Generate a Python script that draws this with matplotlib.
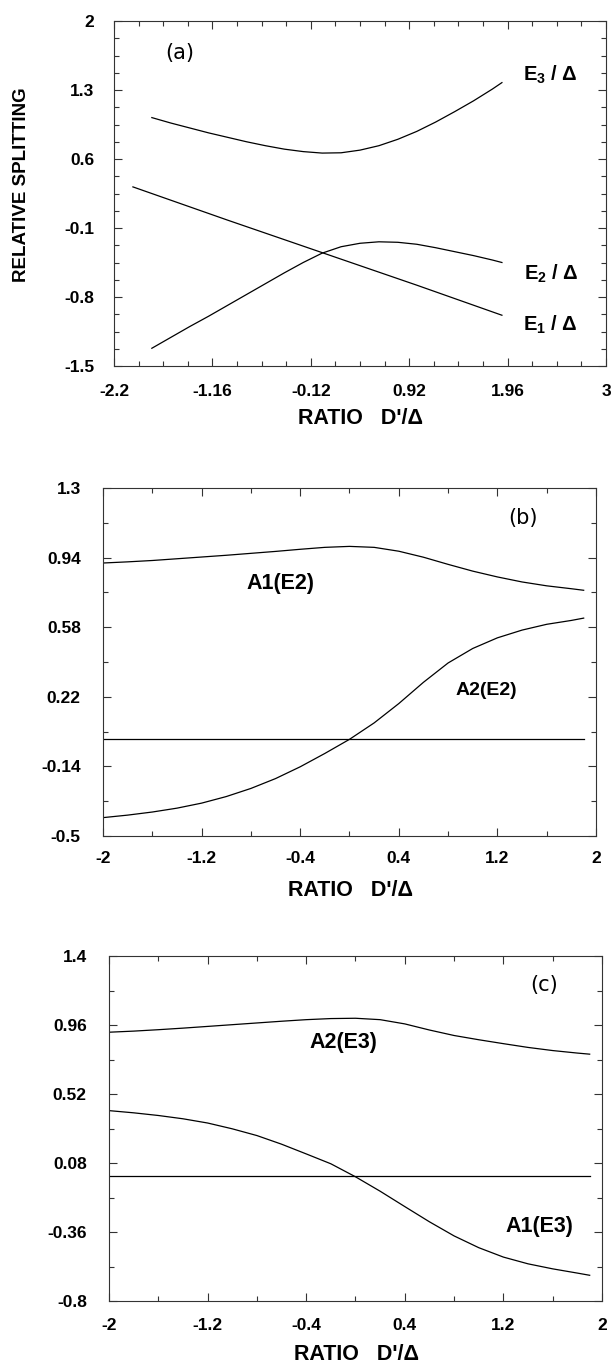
import numpy as np
import matplotlib
matplotlib.use('Agg')
import matplotlib.pyplot as plt
from matplotlib.ticker import FixedLocator, FixedFormatter

plt.rcParams['font.family'] = ['Liberation Sans', 'DejaVu Sans']
plt.rcParams['mathtext.fontset'] = 'custom'
plt.rcParams['mathtext.rm'] = 'Liberation Sans:bold'
plt.rcParams['mathtext.default'] = 'rm'

# ---- panel (a): relative splitting vs D'/Delta ----
xE1 = [-2.0, -1.0, 0.0, 1.0, 1.9]
yE1 = [0.317, -0.02, -0.35, -0.68, -0.985]

xE23 = [-1.8, -1.6, -1.4, -1.2, -1.0, -0.8, -0.6, -0.4, -0.2, 0.0,
        0.2, 0.4, 0.6, 0.8, 1.0, 1.2, 1.4, 1.6, 1.8, 1.9]
yE3 = [1.02, 0.965, 0.915, 0.865, 0.82, 0.775, 0.735, 0.70, 0.675, 0.66,
       0.663, 0.69, 0.735, 0.80, 0.88, 0.975, 1.08, 1.19, 1.31, 1.375]
yE2 = [-1.32, -1.21, -1.10, -0.995, -0.885, -0.775, -0.665, -0.555, -0.45, -0.355,
       -0.29, -0.255, -0.24, -0.245, -0.265, -0.30, -0.34, -0.38, -0.425, -0.45]

# ---- panels (b) and (c) share the same x grid ----
xBC = [-2.0, -1.8, -1.6, -1.4, -1.2, -1.0, -0.8, -0.6, -0.4, -0.2, 0.0,
       0.2, 0.4, 0.6, 0.8, 1.0, 1.2, 1.4, 1.6, 1.8, 1.9]
yA1E2 = [0.912, 0.918, 0.925, 0.934, 0.943, 0.952, 0.962, 0.972, 0.983, 0.993, 0.998,
         0.993, 0.973, 0.942, 0.905, 0.87, 0.84, 0.814, 0.794, 0.779, 0.771]
yA2E2 = [-0.405, -0.392, -0.376, -0.356, -0.33, -0.296, -0.254, -0.203, -0.142, -0.073, 0.0,
         0.085, 0.185, 0.295, 0.395, 0.47, 0.525, 0.565, 0.595, 0.615, 0.627]
yA2E3 = [0.914, 0.921, 0.93, 0.94, 0.951, 0.962, 0.973, 0.984, 0.994, 1.001, 1.003,
         0.994, 0.967, 0.928, 0.893, 0.866, 0.841, 0.817, 0.797, 0.781, 0.774]
yA1E3 = [0.414, 0.40, 0.383, 0.362, 0.335, 0.298, 0.255, 0.20, 0.138, 0.075, -0.008,
         -0.10, -0.198, -0.295, -0.385, -0.46, -0.52, -0.563, -0.595, -0.622, -0.636]
xZero = [-2.0, 1.9]
yZero = [0.0, 0.0]

# tick values / labels
xTicksA = [-2.2, -1.16, -0.12, 0.92, 1.96, 3.0]
xLabelsA = ['-2.2', '-1.16', '-0.12', '0.92', '1.96', '3']
yTicksA = [-1.5, -0.8, -0.1, 0.6, 1.3, 2.0]
yLabelsA = ['-1.5', '-0.8', '-0.1', '0.6', '1.3', '2']
xTicksBC = [-2.0, -1.2, -0.4, 0.4, 1.2, 2.0]
xLabelsBC = ['-2', '-1.2', '-0.4', '0.4', '1.2', '2']
yTicksB = [-0.5, -0.14, 0.22, 0.58, 0.94, 1.3]
yLabelsB = ['-0.5', '-0.14', '0.22', '0.58', '0.94', '1.3']
yTicksC = [-0.8, -0.36, 0.08, 0.52, 0.96, 1.4]
yLabelsC = ['-0.8', '-0.36', '0.08', '0.52', '0.96', '1.4']


def styleAxis(ax, xt, xl, xminor, yt, yl, yminor, xpad, ypad):
	ax.set_xlim(xt[0], xt[-1])
	ax.set_ylim(yt[0], yt[-1])
	ax.xaxis.set_major_locator(FixedLocator(xt))
	ax.xaxis.set_major_formatter(FixedFormatter(xl))
	ax.yaxis.set_major_locator(FixedLocator(yt))
	ax.yaxis.set_major_formatter(FixedFormatter(yl))
	ax.xaxis.set_minor_locator(FixedLocator(np.arange(xt[0], xt[-1] + 1e-6, xminor)))
	ax.yaxis.set_minor_locator(FixedLocator(np.arange(yt[0], yt[-1] + 1e-6, yminor)))
	ax.tick_params(which='both', direction='in', top=True, right=True, width=0.8, color='#333333')
	ax.tick_params(which='major', length=6)
	ax.tick_params(which='minor', length=3.5)
	ax.tick_params(axis='x', pad=xpad, labelsize=12.5)
	ax.tick_params(axis='y', pad=ypad, labelsize=12.5)
	for lab in ax.get_xticklabels() + ax.get_yticklabels():
		lab.set_fontweight('bold')
	for s in ax.spines.values():
		s.set_linewidth(0.8)
		s.set_color('#333333')


W, H = 613.0, 1363.0
fig = plt.figure(figsize=(6.13, 13.63), dpi=100)

# pixel boxes (left, top, right, bottom)
def addAx(l, t, r, b):
	return fig.add_axes([l / W, 1 - b / H, (r - l) / W, (b - t) / H])

axA = addAx(114, 21, 606, 366)
axB = addAx(103, 488, 596, 836)
axC = addAx(109, 956, 602, 1301)

lineKw = dict(color='black', lw=0.9)

# (a)
axA.plot(xE1, yE1, **lineKw)
axA.plot(xE23, yE2, **lineKw)
axA.plot(xE23, yE3, **lineKw)
styleAxis(axA, xTicksA, xLabelsA, 0.26, yTicksA, yLabelsA, 0.175, 13, 14)
axA.text(-1.50, 1.675, '(a)', fontsize=15, family='DejaVu Sans', ha='center', va='center')
axA.text(2.41, 1.45, 'E$_3$ / Δ', fontsize=14.5, fontweight='bold', ha='center', va='center')
axA.text(2.42, -0.57, 'E$_2$ / Δ', fontsize=14.5, fontweight='bold', ha='center', va='center')
axA.text(2.41, -1.08, 'E$_1$ / Δ', fontsize=14.5, fontweight='bold', ha='center', va='center')

# (b)
axB.plot(xBC, yA1E2, **lineKw)
axB.plot(xBC, yA2E2, **lineKw)
axB.plot(xZero, yZero, **lineKw)
styleAxis(axB, xTicksBC, xLabelsBC, 0.4, yTicksB, yLabelsB, 0.18, 11, 16)
axB.text(1.41, 1.145, '(b)', fontsize=15, family='DejaVu Sans', ha='center', va='center')
axB.text(-0.56, 0.808, 'A1(E2)', fontsize=15.5, fontweight='bold', ha='center', va='center')
axB.text(1.11, 0.255, 'A2(E2)', fontsize=14, fontweight='bold', ha='center', va='center')

# (c)
axC.plot(xBC, yA2E3, **lineKw)
axC.plot(xBC, yA1E3, **lineKw)
axC.plot(xZero, yZero, **lineKw)
styleAxis(axC, xTicksBC, xLabelsBC, 0.4, yTicksC, yLabelsC, 0.22, 12, 16)
axC.text(1.53, 1.215, '(c)', fontsize=15, family='DejaVu Sans', ha='center', va='center')
axC.text(-0.10, 0.85, 'A2(E3)', fontsize=15.5, fontweight='bold', ha='center', va='center')
axC.text(1.49, -0.328, 'A1(E3)', fontsize=15.5, fontweight='bold', ha='center', va='center')

# axis titles
xlab = "RATIO   D'/Δ"
fig.text(360 / W, 1 - 419 / H, xlab, fontsize=15.5, fontweight='bold', ha='center', va='center')
fig.text(350 / W, 1 - 890 / H, xlab, fontsize=15.5, fontweight='bold', ha='center', va='center')
fig.text(357 / W, 1 - 1354 / H, xlab, fontsize=15.5, fontweight='bold', ha='center', va='center')
fig.text(22 / W, 1 - 185 / H, 'RELATIVE SPLITTING', fontsize=13.5, fontweight='bold',
         rotation=90, ha='center', va='center')

fig.savefig('out.png', dpi=100)
